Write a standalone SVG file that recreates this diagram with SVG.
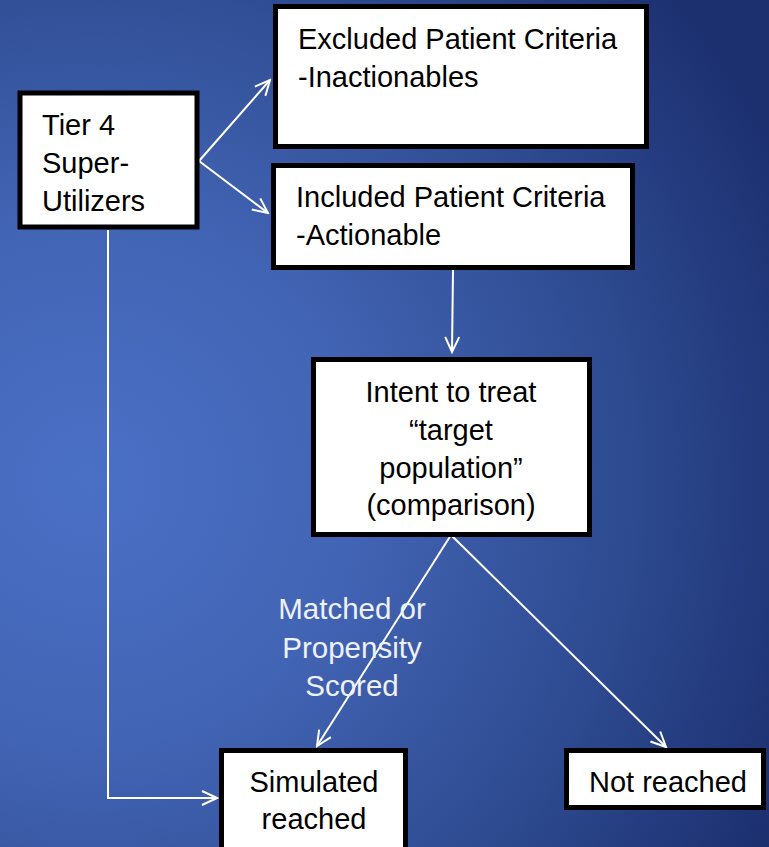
<svg xmlns="http://www.w3.org/2000/svg" width="769" height="847" viewBox="0 0 769 847">
<defs>
<radialGradient id="bg" gradientUnits="userSpaceOnUse" cx="90" cy="480" r="760">
<stop offset="0" stop-color="#4a70c6"/>
<stop offset="0.35" stop-color="#4264b4"/>
<stop offset="0.7" stop-color="#2e4b91"/>
<stop offset="1" stop-color="#1c3070"/>
</radialGradient>
<marker id="arr" viewBox="0 0 20 20" refX="18" refY="10" markerWidth="20" markerHeight="20" markerUnits="userSpaceOnUse" orient="auto">
<path d="M3,3 L18,10 L3,17" fill="none" stroke="#ffffff" stroke-width="2"/>
</marker>
<style>
.box{fill:#ffffff;stroke:#000000;stroke-width:5}
.t{font-family:"Liberation Sans",Arial,sans-serif;font-size:29px;fill:#000000}
.c{text-anchor:middle}
.lbl{font-family:"Liberation Sans",Arial,sans-serif;font-size:29.5px;fill:#eef1f8;text-anchor:middle}
.ln{fill:none;stroke:#ffffff;stroke-width:2;marker-end:url(#arr)}
</style>
</defs>
<rect x="0" y="0" width="769" height="847" fill="url(#bg)"/>
<g id="connectors">
<line class="ln" x1="199" y1="161" x2="270" y2="80"/>
<line class="ln" x1="199" y1="161" x2="268" y2="213"/>
<line class="ln" x1="453" y1="270" x2="452" y2="352"/>
<line class="ln" x1="451" y1="535" x2="317" y2="746"/>
<line class="ln" x1="451" y1="535" x2="666" y2="747"/>
<polyline class="ln" points="108,230 108,798 217,798"/>
</g>
<g id="label-matched">
<text class="lbl" x="352" y="619">Matched or</text>
<text class="lbl" x="352" y="658">Propensity</text>
<text class="lbl" x="352" y="696">Scored</text>
</g>
<g id="tier4">
<rect class="box" x="20" y="93" width="177" height="134"/>
<text class="t" x="42" y="135">Tier 4</text>
<text class="t" x="42" y="173">Super-</text>
<text class="t" x="42" y="211">Utilizers</text>
</g>
<g id="excluded">
<rect class="box" x="275.5" y="6.5" width="371" height="140"/>
<text class="t" x="298" y="49">Excluded Patient Criteria</text>
<text class="t" x="298" y="87">-Inactionables</text>
</g>
<g id="included">
<rect class="box" x="273.5" y="165.5" width="359" height="102"/>
<text class="t" x="296" y="207">Included Patient Criteria</text>
<text class="t" x="296" y="245">-Actionable</text>
</g>
<g id="intent">
<rect class="box" x="313.5" y="359.5" width="276" height="175"/>
<text class="t c" x="451" y="402">Intent to treat</text>
<text class="t c" x="451" y="440">“target</text>
<text class="t c" x="451" y="478">population”</text>
<text class="t c" x="451" y="515">(comparison)</text>
</g>
<g id="simulated">
<rect class="box" x="221.5" y="750.5" width="184" height="110"/>
<text class="t c" x="314" y="792">Simulated</text>
<text class="t c" x="314" y="829">reached</text>
</g>
<g id="notreached">
<rect class="box" x="566.5" y="750.5" width="197" height="57"/>
<text class="t c" x="668" y="792">Not reached</text>
</g>
</svg>
